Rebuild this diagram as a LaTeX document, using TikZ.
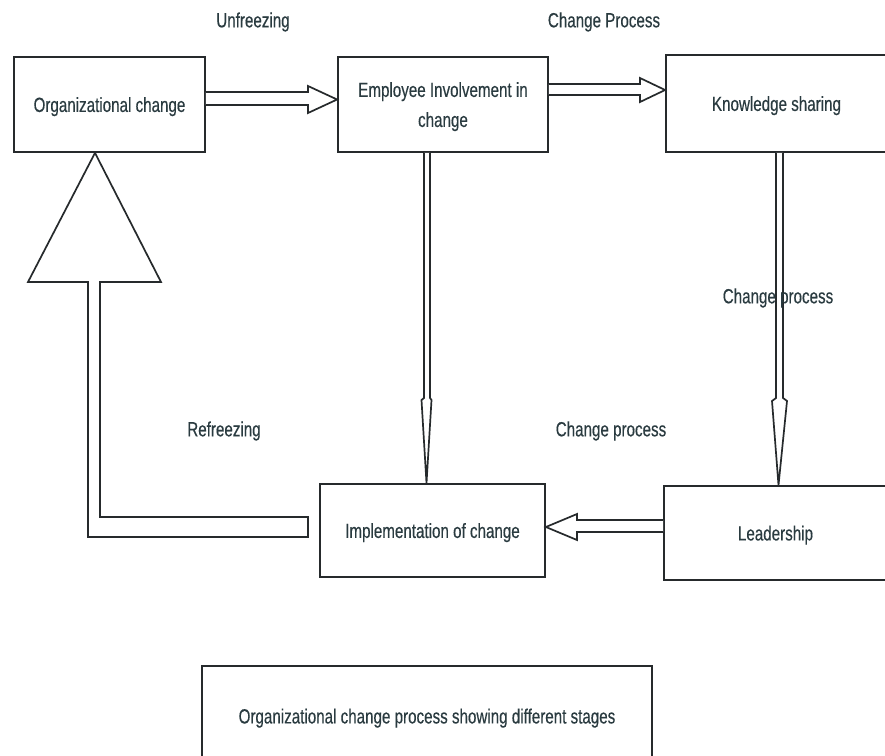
\documentclass[tikz,border=0pt]{standalone}
\usepackage{fontspec}
\setmainfont{Liberation Sans}[FakeStretch=0.74,FakeBold=0.35]
\definecolor{txt}{HTML}{2A3B40}
\definecolor{ln}{HTML}{262A2C}
\begin{document}
\begin{tikzpicture}[x=1pt,y=-1pt,
  box/.style={draw=ln, line width=1.8pt, rectangle, inner sep=0pt, align=center,
    text=txt, font=\fontsize{20.5}{30}\selectfont},
  lbl/.style={inner sep=0pt, text=txt, font=\fontsize{20.5}{30}\selectfont},
  blk/.style={draw=ln, line width=1.7pt, line join=miter, fill=white}]
\useasboundingbox (0,0) rectangle (885,755);
\fill[white] (0,0) rectangle (885,755);

% boxes
\node[box, minimum width=191pt, minimum height=95pt, text depth=0pt] (org) at (109.5,104.5) {Organizational change};
\node[box, minimum width=210pt, minimum height=95pt, text depth=-5pt] (emp) at (443,104.5) {Employee Involvement in\\change};
\node[box, minimum width=221pt, minimum height=97pt, text depth=-2pt] (know) at (776.5,103.5) {Knowledge sharing};
\node[box, minimum width=225pt, minimum height=93pt, text depth=-2pt] (impl) at (432.5,530.5) {Implementation of change};
\node[box, minimum width=223pt, minimum height=94pt, text depth=0pt] (lead) at (775.5,533) {Leadership};
\node[box, minimum width=450pt, minimum height=100pt, text depth=0pt] (cap) at (427,716) {Organizational change process showing different stages};

% Unfreezing arrow: org -> emp
\draw[blk] (org.east |- 0,92) -- (308,92) -- (308,86) -- (emp.west |- 0,99.5)
  -- (308,113) -- (308,105) -- (org.east |- 0,105);
% Change process arrow: emp -> know
\draw[blk] (emp.east |- 0,84) -- (640,84) -- (640,78) -- (know.west |- 0,90)
  -- (640,102) -- (640,95) -- (emp.east |- 0,95);
% emp -> impl (vertical)
\draw[blk] (424,0 |- emp.south) -- (424,398) -- (421.5,400) -- (426.5,0 |- impl.north)
  -- (431.5,400) -- (430,398) -- (430,0 |- emp.south);
% know -> lead (vertical)
\draw[blk] (776,0 |- know.south) -- (776,398) -- (772,401) -- (778.5,0 |- lead.north)
  -- (787,401) -- (783,398) -- (783,0 |- know.south);
% lead -> impl
\draw[blk] (lead.west |- 0,520) -- (577,520) -- (577,514) -- (impl.east |- 0,527)
  -- (577,540) -- (577,532) -- (lead.west |- 0,532);
% Refreezing arrow: impl -> org
\coordinate (rtail) at (308,527);
\coordinate (rtip) at (95,0 |- org.south);
\draw[blk] (rtail |- 0,517) -- (100,517) -- (100,282) -- (161,282) -- (rtip)
  -- (28,282) -- (88,282) -- (88,537) -- (rtail |- 0,537) -- cycle;

% labels
\node[lbl] (l1) at (253,22) {Unfreezing};
\node[lbl] (l2) at (604,22) {Change Process};
\node[lbl] (l3) at (778,298) {Change process};
\node[lbl] (l4) at (224,431) {Refreezing};
\node[lbl] (l5) at (611,431) {Change process};
\end{tikzpicture}
\end{document}
